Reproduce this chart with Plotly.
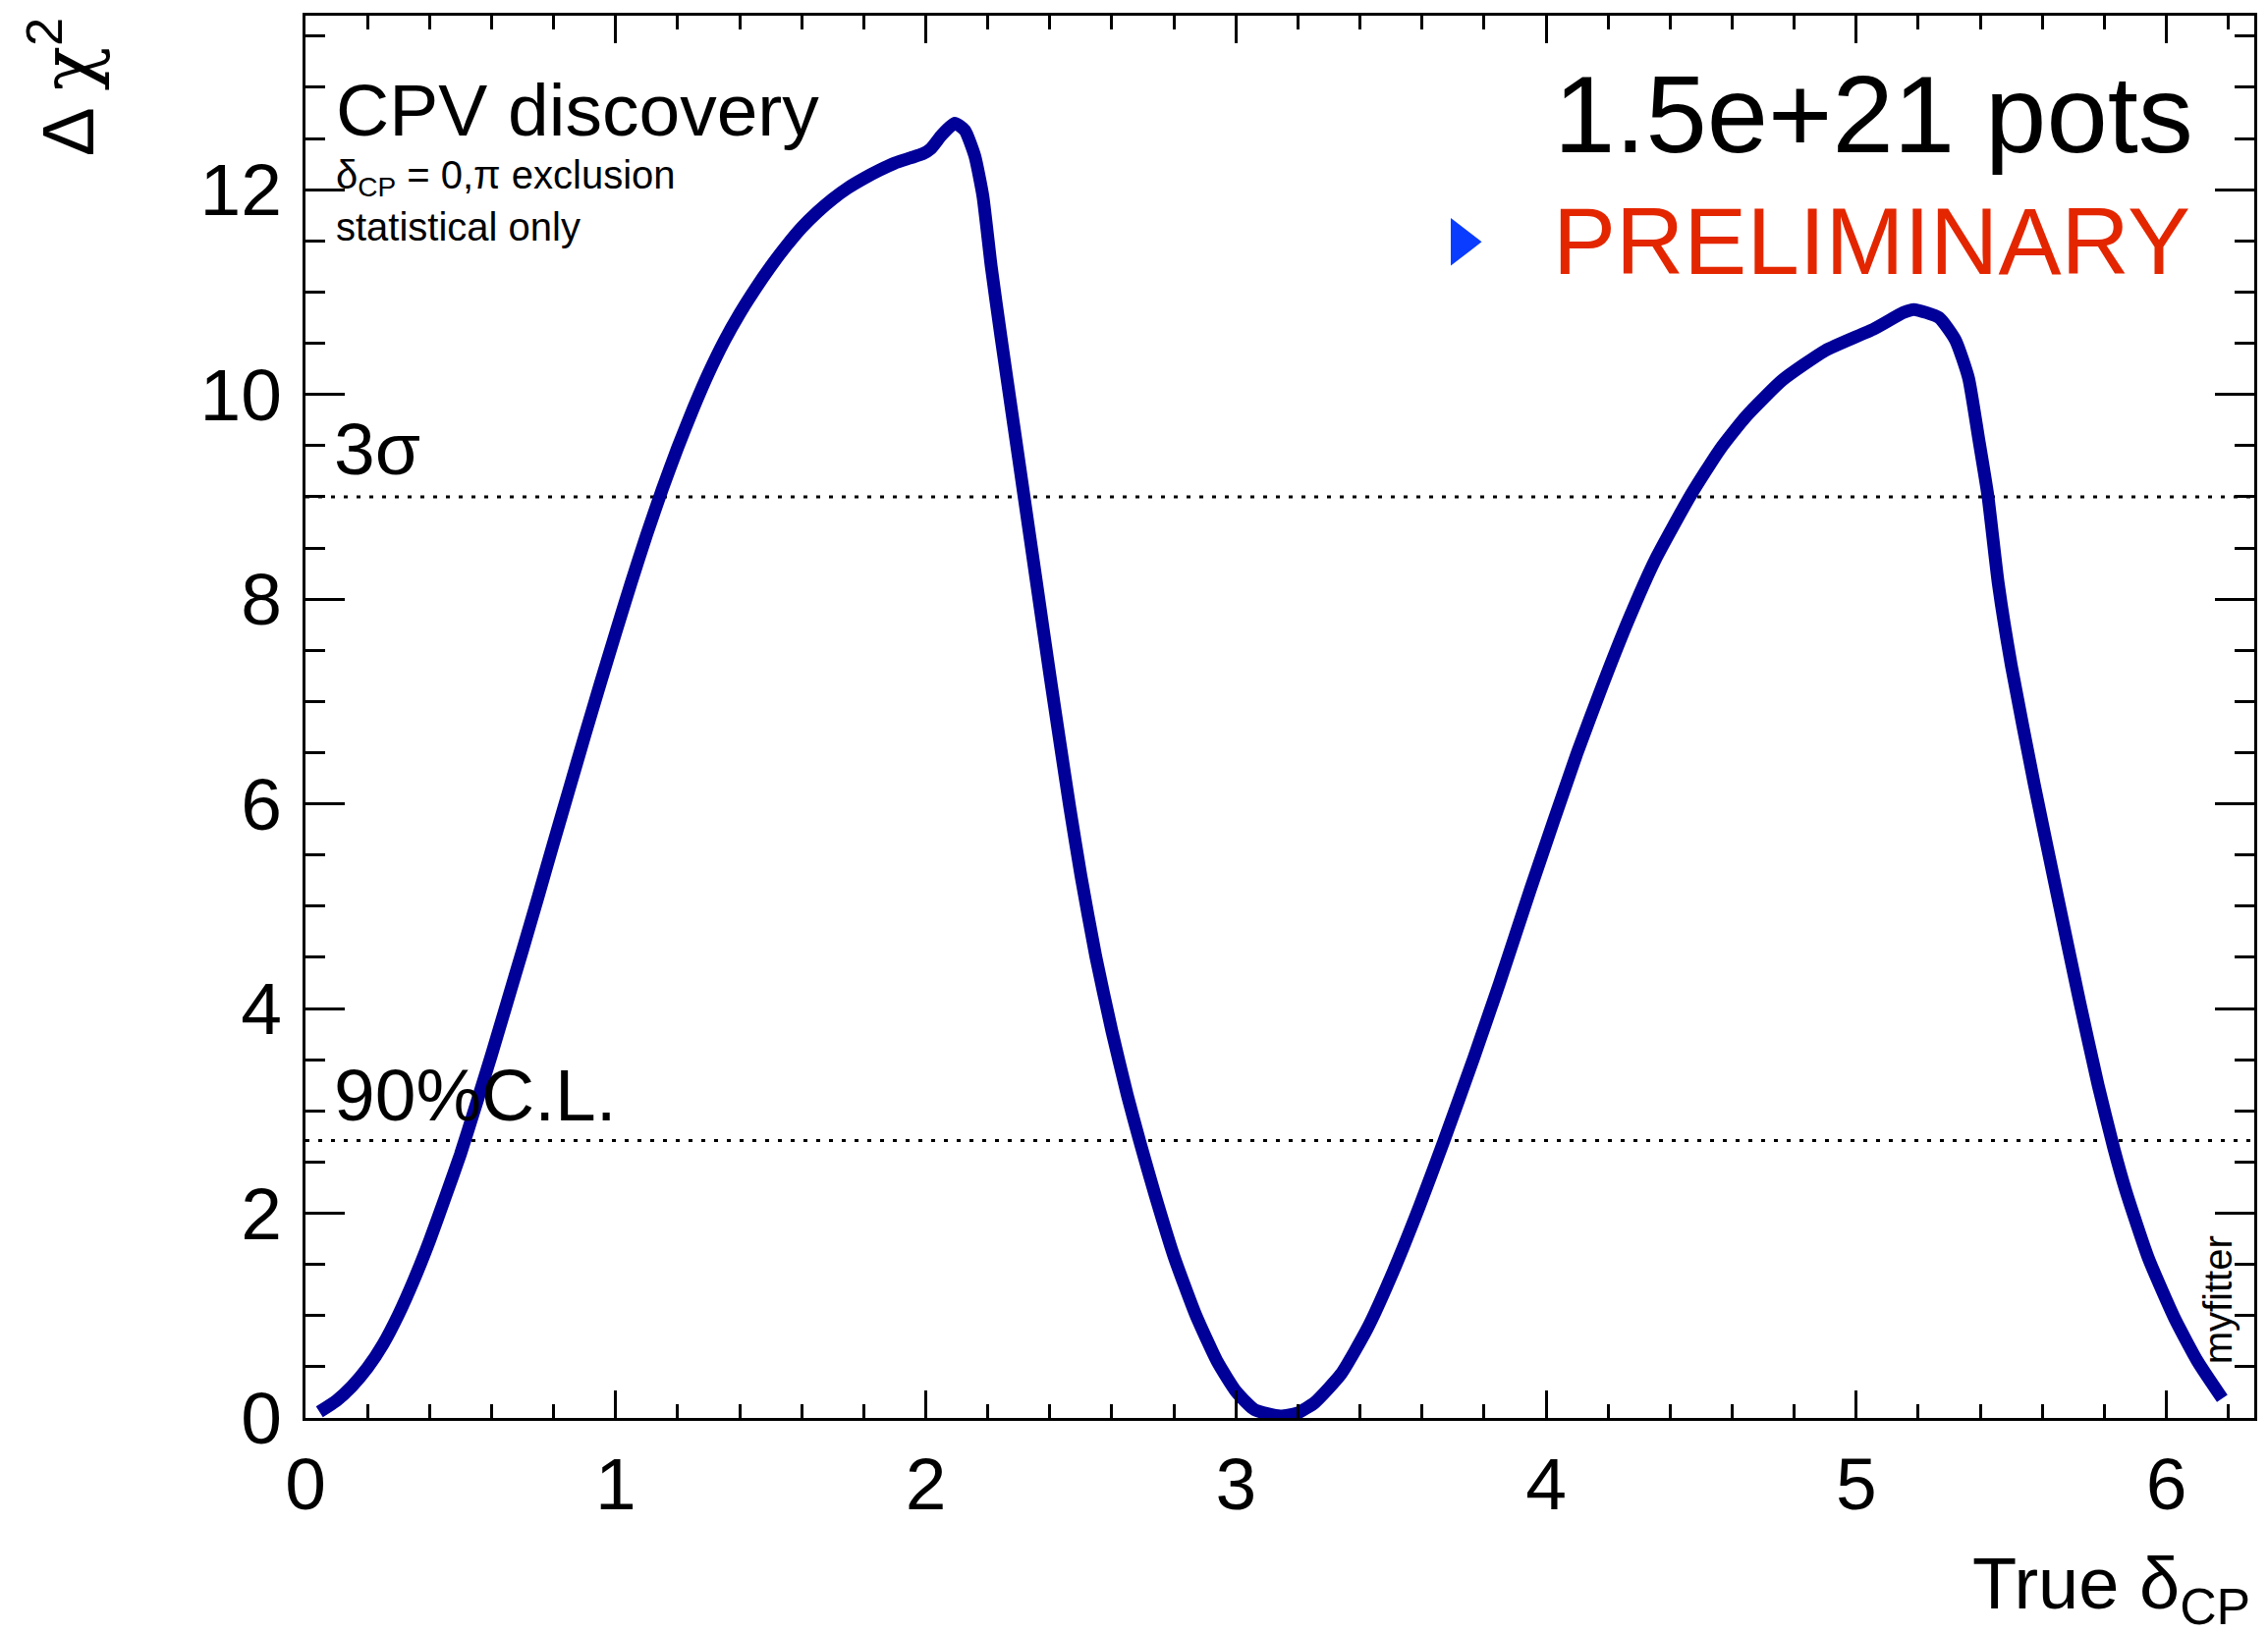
import plotly.graph_objects as go
import math

# ---------------- data ----------------
delta_cp = [0.045, 0.10, 0.15, 0.20, 0.25, 0.30, 0.35, 0.40, 0.45, 0.50, 0.55, 0.60,
            0.65, 0.70, 0.75, 0.80, 0.85, 0.90, 0.95, 1.00, 1.05, 1.10, 1.15, 1.20,
            1.25, 1.30, 1.35, 1.40, 1.45, 1.50, 1.55, 1.60, 1.65, 1.70, 1.75, 1.80,
            1.85, 1.90, 1.95, 1.99, 2.016, 2.053, 2.093, 2.126, 2.158, 2.184, 2.211,
            2.242, 2.284, 2.316, 2.358, 2.40, 2.43, 2.464, 2.50, 2.548, 2.60, 2.65,
            2.69, 2.74, 2.80, 2.87, 2.94, 3.00, 3.06, 3.143, 3.20, 3.254, 3.339,
            3.423, 3.507, 3.592, 3.671, 3.766, 3.85, 3.95, 4.098, 4.182, 4.266, 4.351,
            4.467, 4.562, 4.646, 4.762, 4.901, 5.057, 5.152, 5.186, 5.267, 5.320,
            5.362, 5.394, 5.424, 5.458, 5.50, 5.574, 5.65, 5.72, 5.78, 5.83, 5.87,
            5.942, 6.027, 6.101, 6.18]
delta_chi2 = [0.06, 0.17, 0.31, 0.49, 0.72, 1.01, 1.35, 1.73, 2.15, 2.58, 3.06, 3.55,
              4.06, 4.57, 5.09, 5.62, 6.14, 6.66, 7.17, 7.67, 8.16, 8.63, 9.07, 9.48,
              9.86, 10.21, 10.52, 10.79, 11.03, 11.25, 11.45, 11.63, 11.78, 11.91, 12.02, 12.11,
              12.19, 12.26, 12.31, 12.35, 12.40, 12.54, 12.65, 12.58, 12.33, 11.94, 11.25,
              10.57, 9.69, 9.02, 8.14, 7.26, 6.65, 5.97, 5.30, 4.51, 3.78, 3.15,
              2.70, 2.17, 1.58, 1.01, 0.55, 0.26, 0.08, 0.02, 0.05, 0.15, 0.43,
              0.87, 1.43, 2.07, 2.71, 3.51, 4.25, 5.17, 6.48, 7.16, 7.80, 8.38,
              9.02, 9.47, 9.79, 10.14, 10.43, 10.64, 10.80, 10.83, 10.75, 10.53,
              10.16, 9.58, 9.02, 8.15, 7.35, 6.19, 5.08, 4.07, 3.25, 2.64, 2.21,
              1.56, 0.97, 0.55, 0.19]

threshold_values = [9.0, 2.71]
threshold_labels = ["3σ", "90%C.L."]

x_range = [0, 2 * math.pi]
y_range = [0, 13.70]
x_tick_vals = [0, 1, 2, 3, 4, 5, 6]
y_tick_vals = [0, 2, 4, 6, 8, 10, 12]

FONT = "Liberation Sans, Arial, Helvetica, sans-serif"
CURVE = "#000099"

fig = go.Figure()

# threshold lines
for v in threshold_values:
    fig.add_trace(go.Scatter(x=x_range, y=[v, v], mode="lines",
                             line=dict(color="black", width=3, dash="4px,9px"),
                             hoverinfo="skip", showlegend=False))

# chi2 curve
fig.add_trace(go.Scatter(x=delta_cp, y=delta_chi2, mode="lines",
                         line=dict(color=CURVE, width=13, shape="spline", smoothing=0.5),
                         showlegend=False))

# blue triangle marker next to PRELIMINARY
fig.add_trace(go.Scatter(x=[3.726], y=[11.49], mode="markers",
                         marker=dict(symbol="triangle-right", size=42, color="#0a3cff",
                                     line=dict(width=0)),
                         hoverinfo="skip", showlegend=False))

annotations = []
# threshold labels
label_y = [9.47, 3.16]
for lab, ly in zip(threshold_labels, label_y):
    annotations.append(dict(x=0.085, y=ly, xref="x", yref="y", text=lab,
                            xanchor="left", yanchor="middle", showarrow=False,
                            font=dict(family=FONT, size=75, color="black")))

annotations += [
    dict(x=0.092, y=12.78, xref="x", yref="y", text="CPV discovery",
         xanchor="left", yanchor="middle", showarrow=False,
         font=dict(family=FONT, size=75, color="black")),
    dict(x=0.092, y=12.12, xref="x", yref="y", text="δ<sub>CP</sub> = 0,π exclusion",
         xanchor="left", yanchor="middle", showarrow=False,
         font=dict(family=FONT, size=40, color="black")),
    dict(x=0.092, y=11.64, xref="x", yref="y", text="statistical only",
         xanchor="left", yanchor="middle", showarrow=False,
         font=dict(family=FONT, size=40, color="black")),
    dict(x=6.094, y=12.74, xref="x", yref="y", text="1.5e+21 pots",
         xanchor="right", yanchor="middle", showarrow=False,
         font=dict(family=FONT, size=112, color="black")),
    dict(x=6.083, y=11.50, xref="x", yref="y", text="PRELIMINARY",
         xanchor="right", yanchor="middle", showarrow=False,
         font=dict(family=FONT, size=96, color="#e32600")),
    dict(x=0.9815, y=0.084, xref="paper", yref="paper", text="myfitter",
         textangle=-90, xanchor="center", yanchor="middle", showarrow=False,
         font=dict(family=FONT, size=40, color="black")),
    dict(x=0.999, y=-0.122, xref="paper", yref="paper", text="True δ<sub>CP</sub>",
         xanchor="right", yanchor="middle", showarrow=False,
         font=dict(family=FONT, size=74, color="black")),
    dict(x=-0.1246, y=1.0, xref="paper", yref="paper",
         text="Δ <span style='font-family:DejaVu Serif'>χ</span><sup>2</sup>",
         textangle=-90, xanchor="center", yanchor="top", showarrow=False,
         font=dict(family=FONT, size=75, color="black")),
]

fig.update_layout(
    width=2309, height=1663,
    margin=dict(l=311, r=11, t=16, b=219),
    paper_bgcolor="white", plot_bgcolor="white",
    annotations=annotations,
    showlegend=False,
    font=dict(family=FONT, size=75, color="black"),
)

fig.update_xaxes(range=x_range, showgrid=False, zeroline=False,
                 showline=True, linecolor="black", linewidth=3, mirror="ticks",
                 ticks="inside", ticklen=28, tickwidth=3, tickcolor="black",
                 tickvals=x_tick_vals, ticklabelstandoff=0,
                 tickfont=dict(family=FONT, size=75, color="black"),
                 minor=dict(ticks="inside", ticklen=14, tickwidth=3, tickcolor="black",
                            dtick=0.2, showgrid=False))
fig.update_yaxes(range=y_range, showgrid=False, zeroline=False,
                 showline=True, linecolor="black", linewidth=3, mirror="ticks",
                 ticks="inside", ticklen=40, tickwidth=3, tickcolor="black",
                 tickvals=y_tick_vals, ticklabelstandoff=6,
                 tickfont=dict(family=FONT, size=75, color="black"),
                 minor=dict(ticks="inside", ticklen=20, tickwidth=3, tickcolor="black",
                            dtick=0.5, showgrid=False))

fig.write_html("out.html")
